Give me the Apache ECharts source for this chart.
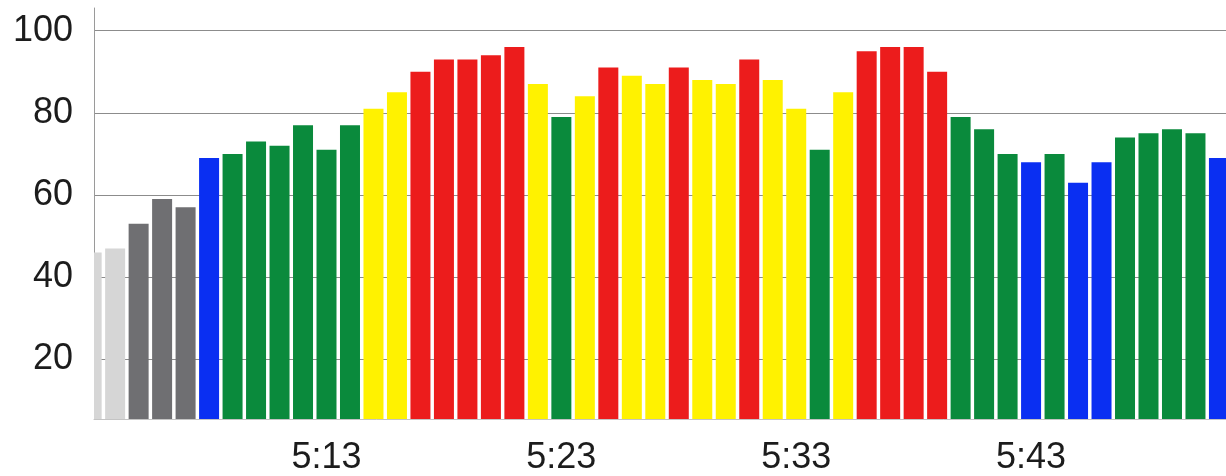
<!DOCTYPE html>
<html>
<head>
<meta charset="utf-8">
<script src="https://cdn.jsdelivr.net/npm/echarts@6/dist/echarts.min.js"></script>
<style>
html,body{margin:0;padding:0;background:#fff;}
#chart{width:1226px;height:476px;}
</style>
</head>
<body>
<div id="chart"></div>
<script>
// minute-by-minute categories (first one is only partly visible at the left edge)
const times = ['5:03','5:04','5:05','5:06','5:07','5:08','5:09','5:10','5:11','5:12',
  '5:13','5:14','5:15','5:16','5:17','5:18','5:19','5:20','5:21','5:22',
  '5:23','5:24','5:25','5:26','5:27','5:28','5:29','5:30','5:31','5:32',
  '5:33','5:34','5:35','5:36','5:37','5:38','5:39','5:40','5:41','5:42',
  '5:43','5:44','5:45','5:46','5:47','5:48','5:49','5:50','5:51'];
const values = [46,
  47,53,59,57,69,70,73,72,77,71,
  77,81,85,90,93,93,94,96,87,79,
  84,91,89,87,91,88,87,93,88,81,
  71,85,95,96,96,90,79,76,70,68,
  70,63,68,74,75,76,75,69];
const xTickLabels = ['5:13','5:23','5:33','5:43'];
const yTickValues = [20,40,60,80,100];
// zone thresholds (value ranges) and their colours
const zoneBounds = [50,60,70,80,90];
const zoneColors = ['#d6d6d6','#6f6f72','#0a2ff2','#0a8a3c','#fff200','#ec1c1c'];

const pieces = [];
for (let i = 0; i < zoneColors.length; i++) {
  const p = {color: zoneColors[i]};
  if (i > 0) p.gte = zoneBounds[i-1];
  if (i < zoneBounds.length) p.lt = zoneBounds[i];
  pieces.push(p);
}

const Y_MIN = 5.5, Y_MAX = 105.5;
const BAR_W = 20;

const chart = echarts.init(document.getElementById('chart'), null, {renderer:'canvas'});
const font = '"Liberation Sans", Arial, sans-serif';
chart.setOption({
  backgroundColor: '#ffffff',
  animation: false,
  grid: {left: 94, right: 0, top: 8, bottom: 57, containLabel: false, outerBoundsMode: 'none'},
  visualMap: {type: 'piecewise', show: false, dimension: 1, seriesIndex: 0, pieces: pieces},
  xAxis: {
    type: 'value',
    min: 0.1, max: 48.3,
    splitLine: {show: false},
    axisTick: {show: false},
    axisLine: {show: true, lineStyle: {color: '#c4c4c4', width: 1}},
    axisLabel: {
      customValues: xTickLabels.map(l => times.indexOf(l)),
      formatter: v => times[Math.round(v)],
      fontFamily: font, fontSize: 36, color: '#1c1c1c', margin: 21
    }
  },
  yAxis: {
    type: 'value',
    min: Y_MIN, max: Y_MAX,
    axisLine: {show: true, lineStyle: {color: '#9a9a9a', width: 1}},
    axisTick: {show: false, customValues: yTickValues},
    splitLine: {show: true, lineStyle: {color: '#8c8c8c', width: 1}},
    axisLabel: {
      customValues: yTickValues,
      fontFamily: font, fontSize: 36, color: '#1c1c1c', margin: 21,
      padding: [0,0,5,0]
    }
  },
  series: [{
    type: 'custom',
    data: values.map((v, i) => [i, v]),
    encode: {x: 0, y: 1},
    renderItem: function (params, api) {
      const top = api.coord([api.value(0), api.value(1)]);
      const base = api.coord([api.value(0), Y_MIN]);
      const cs = params.coordSys;
      const shape = echarts.graphic.clipRectByRect(
        {x: top[0] - BAR_W / 2, y: top[1], width: BAR_W, height: base[1] - top[1]},
        {x: cs.x, y: cs.y, width: cs.width, height: cs.height}
      );
      if (!shape) return null;
      return {type: 'rect', shape: shape, style: {fill: api.visual('color')}};
    }
  }]
});
</script>
</body>
</html>
